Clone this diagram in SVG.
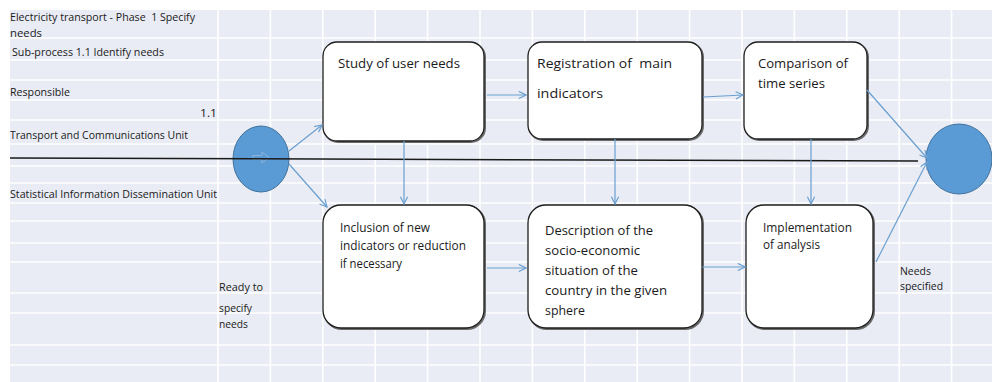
<svg xmlns="http://www.w3.org/2000/svg" width="992" height="382" viewBox="0 0 992 382">
<defs>
<style>
.bg{fill:#e9ecf4}
.gl{stroke:#ffffff;stroke-width:1.6}
.box{fill:#ffffff;stroke:#1e1e1e;stroke-width:1.3}
.shadow{fill:none;stroke:#6b6b6b;stroke-width:2}
.t{font-family:"Open Sans","Noto Sans","Liberation Sans",sans-serif;fill:#1a1a1a;white-space:pre}
.big{font-size:13.5px}
.mid{font-size:12px}
.sm{font-size:10.5px}
.conn{stroke:#6a9fd0;stroke-width:1.2;fill:none}
.ev{fill:#5b9bd5;stroke:#41719c;stroke-width:1}
</style>
<marker id="arr" viewBox="0 0 10 10" refX="9" refY="5" markerWidth="9" markerHeight="9" markerUnits="userSpaceOnUse" orient="auto">
<path d="M1,1 L9,5 L1,9" fill="none" stroke="#6a9fd0" stroke-width="1.3"/>
</marker>
</defs>

<g id="grid">
<rect class="bg" x="10" y="10" width="982" height="372"/>
<g class="gl">
<line x1="10" y1="38" x2="992" y2="38"/>
<line x1="10" y1="60" x2="992" y2="60"/>
<line x1="10" y1="80" x2="992" y2="80"/>
<line x1="10" y1="100" x2="992" y2="100"/>
<line x1="10" y1="120" x2="992" y2="120"/>
<line x1="10" y1="144" x2="992" y2="144"/>
<line x1="10" y1="166" x2="992" y2="166"/>
<line x1="10" y1="183" x2="992" y2="183"/>
<line x1="10" y1="203" x2="992" y2="203"/>
<line x1="10" y1="221" x2="992" y2="221"/>
<line x1="10" y1="243" x2="992" y2="243"/>
<line x1="10" y1="262" x2="992" y2="262"/>
<line x1="10" y1="293" x2="992" y2="293"/>
<line x1="10" y1="313" x2="992" y2="313"/>
<line x1="10" y1="345" x2="992" y2="345"/>
<line x1="10" y1="365" x2="992" y2="365"/>
<line x1="218" y1="10" x2="218" y2="382"/>
<line x1="270.4" y1="10" x2="270.4" y2="382"/>
<line x1="322.8" y1="10" x2="322.8" y2="382"/>
<line x1="375.2" y1="10" x2="375.2" y2="382"/>
<line x1="427.6" y1="10" x2="427.6" y2="382"/>
<line x1="480" y1="10" x2="480" y2="382"/>
<line x1="532.4" y1="10" x2="532.4" y2="382"/>
<line x1="584.8" y1="10" x2="584.8" y2="382"/>
<line x1="637.2" y1="10" x2="637.2" y2="382"/>
<line x1="689.6" y1="10" x2="689.6" y2="382"/>
<line x1="742" y1="10" x2="742" y2="382"/>
<line x1="794.4" y1="10" x2="794.4" y2="382"/>
<line x1="846.8" y1="10" x2="846.8" y2="382"/>
<line x1="899.2" y1="10" x2="899.2" y2="382"/>
<line x1="951.6" y1="10" x2="951.6" y2="382"/>
</g>
</g>

<g id="labels">
<text class="t sm" x="10" y="21" textLength="185" lengthAdjust="spacingAndGlyphs">Electricity transport - Phase  1 Specify</text>
<text class="t sm" x="10" y="37" textLength="32" lengthAdjust="spacingAndGlyphs">needs</text>
<text class="t sm" x="12" y="56" textLength="152" lengthAdjust="spacingAndGlyphs">Sub-process 1.1 Identify needs</text>
<text class="t sm" x="10" y="96" textLength="60" lengthAdjust="spacingAndGlyphs">Responsible</text>
<text class="t sm" x="200" y="117" textLength="17" lengthAdjust="spacingAndGlyphs">1.1</text>
<text class="t sm" x="10" y="139" textLength="178" lengthAdjust="spacingAndGlyphs">Transport and Communications Unit</text>
<text class="t sm" x="10" y="198" textLength="207" lengthAdjust="spacingAndGlyphs">Statistical Information Dissemination Unit</text>
<text class="t sm" x="219" y="291" textLength="44" lengthAdjust="spacingAndGlyphs">Ready to</text>
<text class="t sm" x="219" y="312" textLength="33" lengthAdjust="spacingAndGlyphs">specify</text>
<text class="t sm" x="219" y="328" textLength="29" lengthAdjust="spacingAndGlyphs">needs</text>
<text class="t sm" x="900" y="275" textLength="31" lengthAdjust="spacingAndGlyphs">Needs</text>
<text class="t sm" x="900" y="290" textLength="43" lengthAdjust="spacingAndGlyphs">specified</text>
</g>

<g id="start">
<ellipse class="ev" cx="261" cy="159" rx="28" ry="33"/>
<path d="M253,155.5 h9 v-3.5 l7,5.5 l-7,5.5 v-3.5 h-9 z" fill="none" stroke="#8db3d8" stroke-width="1"/>
</g>

<g id="end">
<ellipse class="ev" cx="959" cy="159" rx="33" ry="35"/>
</g>

<g id="lane-divider">
<line x1="10" y1="158" x2="918" y2="161" stroke="#1a1a1a" stroke-width="1.5"/>
</g>

<g id="n1">
<rect class="shadow" x="324" y="43" width="161" height="99" rx="14"/>
<rect class="box" x="323" y="42" width="161" height="99" rx="14"/>
<text class="t big" x="338" y="68" textLength="122" lengthAdjust="spacingAndGlyphs">Study of user needs</text>
</g>

<g id="n2">
<rect class="shadow" x="529" y="43" width="174" height="97" rx="14"/>
<rect class="box" x="528" y="42" width="174" height="97" rx="14"/>
<text class="t big" x="537" y="68" textLength="135" lengthAdjust="spacingAndGlyphs">Registration of  main</text>
<text class="t big" x="537" y="98" textLength="66" lengthAdjust="spacingAndGlyphs">indicators</text>
</g>

<g id="n3">
<rect class="shadow" x="745" y="43" width="123" height="97" rx="14"/>
<rect class="box" x="744" y="42" width="123" height="97" rx="14"/>
<text class="t big" x="758" y="68" textLength="90" lengthAdjust="spacingAndGlyphs">Comparison of</text>
<text class="t big" x="758" y="88" textLength="67" lengthAdjust="spacingAndGlyphs">time series</text>
</g>

<g id="n4">
<rect class="shadow" x="324" y="206" width="161" height="123" rx="18"/>
<rect class="box" x="323" y="205" width="161" height="123" rx="18"/>
<text class="t mid" x="340" y="231.5" textLength="90" lengthAdjust="spacingAndGlyphs">Inclusion of new</text>
<text class="t mid" x="340" y="249.5" textLength="126" lengthAdjust="spacingAndGlyphs">indicators or reduction</text>
<text class="t mid" x="340" y="267.5" textLength="62" lengthAdjust="spacingAndGlyphs">if necessary</text>
</g>

<g id="n5">
<rect class="shadow" x="529" y="206" width="174" height="123" rx="18"/>
<rect class="box" x="528" y="205" width="174" height="123" rx="18"/>
<text class="t big" x="545" y="235" textLength="108" lengthAdjust="spacingAndGlyphs">Description of the</text>
<text class="t big" x="545" y="255" textLength="95" lengthAdjust="spacingAndGlyphs">socio-economic</text>
<text class="t big" x="545" y="275" textLength="93" lengthAdjust="spacingAndGlyphs">situation of the</text>
<text class="t big" x="545" y="295" textLength="122" lengthAdjust="spacingAndGlyphs">country in the given</text>
<text class="t big" x="545" y="315" textLength="40" lengthAdjust="spacingAndGlyphs">sphere</text>
</g>

<g id="n6">
<rect class="shadow" x="747" y="206" width="127" height="123" rx="18"/>
<rect class="box" x="746" y="205" width="127" height="123" rx="18"/>
<text class="t mid" x="763" y="231.5" textLength="89" lengthAdjust="spacingAndGlyphs">Implementation</text>
<text class="t mid" x="763" y="248.5" textLength="57" lengthAdjust="spacingAndGlyphs">of analysis</text>
</g>

<g id="connectors">
<line class="conn" x1="289" y1="151" x2="322" y2="125" marker-end="url(#arr)"/>
<line class="conn" x1="289" y1="164" x2="327" y2="207" marker-end="url(#arr)"/>
<line class="conn" x1="487" y1="95" x2="526" y2="95" marker-end="url(#arr)"/>
<line class="conn" x1="703" y1="97" x2="743" y2="95" marker-end="url(#arr)"/>
<line class="conn" x1="404" y1="141" x2="404" y2="204" marker-end="url(#arr)"/>
<line class="conn" x1="615" y1="139" x2="615" y2="204" marker-end="url(#arr)"/>
<line class="conn" x1="811" y1="139" x2="811" y2="204" marker-end="url(#arr)"/>
<line class="conn" x1="487" y1="268" x2="526" y2="268" marker-end="url(#arr)"/>
<line class="conn" x1="702" y1="267" x2="745" y2="267" marker-end="url(#arr)"/>
<line class="conn" x1="867" y1="90" x2="927" y2="158" marker-end="url(#arr)"/>
<line class="conn" x1="876" y1="262" x2="927" y2="162" marker-end="url(#arr)"/>
</g>
</svg>
